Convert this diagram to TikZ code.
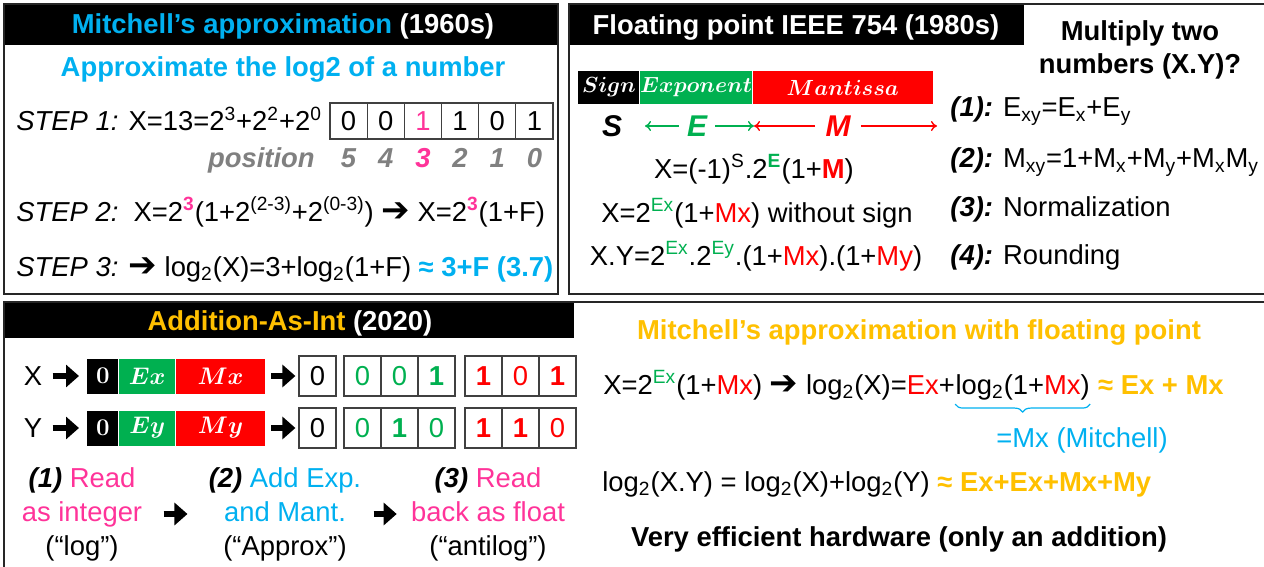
\documentclass[tikz,border=0pt]{standalone}
\usepackage{fontspec}
\setmainfont{Liberation Sans}
\newfontfamily\arrowfont{DejaVu Sans}
\usetikzlibrary{arrows.meta}
\usetikzlibrary{positioning}
\usetikzlibrary{decorations.pathreplacing}

\definecolor{mblue}{HTML}{00B0F0}
\definecolor{morange}{HTML}{FFC000}
\definecolor{mgreen}{HTML}{00B050}
\definecolor{mred}{HTML}{FF0000}
\definecolor{mpink}{HTML}{FF3399}
\definecolor{mgray}{HTML}{808080}

\newcommand{\fs}{\fontsize{13.7}{16.5}\selectfont}
\newcommand{\ra}{{\arrowfont\fontsize{17}{17}\selectfont ➔}}
\newcommand{\logtwo}{log\textsubscript{2}}
\newcommand{\sps}[1]{\textsuperscript{#1}}

\begin{document}
\begin{tikzpicture}[x=0.5pt, y=-0.5pt,
  every node/.style={font=\fs, inner sep=0pt},
  frame/.style={draw=black!85, line width=1.2pt},
  hdr/.style={fill=black},
  cell/.style={draw=black!75, line width=0.6pt, minimum width=18.5pt, minimum height=20pt},
  bar/.style={text=white, minimum height=17.5pt, font=\fontsize{13}{15}\selectfont\boldmath},
  fpbar/.style={text=white, minimum height=16.5pt, font=\fontsize{10.8}{13}\selectfont\boldmath},
  bigarr/.style={line width=2.8pt, -{Triangle[length=6.5pt, width=11pt]}},
  lenarr/.style={line width=0.7pt, -{To[length=3pt, width=5pt]}},
  lines/.style={align=center, font=\fontsize{13.7}{17}\selectfont}]

\useasboundingbox (0,0) rectangle (1264,567);

% Mitchell (1960s)
\fill[hdr] (4,4) rectangle (558,45);
\draw[frame] (4,4) rectangle (558,294);
\node[anchor=base] (t1) at (283,34) {\bfseries\textcolor{mblue}{Mitchell's approximation} \textcolor{white}{(1960s)}};
\node[anchor=base, text=mblue] (sub1) at (283,77) {\bfseries Approximate the log2 of a number};

\node[anchor=base west] (st1) at (16,131) {\textit{STEP 1:} X=13=2\sps{3}+2\sps{2}+2\sps{0}};
\foreach \b/\c [count=\i] in {0/black,0/black,1/mpink,1/black,0/black,1/black}
  \node[cell, minimum width=18.58pt, minimum height=18pt, text=\c] (c\i) at ({330+37.17*(\i-0.5)},121) {\b};
\node[anchor=base east, text=mgray] (pos) at (315,168) {\bfseries\itshape position};
\foreach \d/\c [count=\i] in {5/mgray,4/mgray,3/mpink,2/mgray,1/mgray,0/mgray}
  \node[anchor=base, text=\c] (p\i) at ({330+37.17*(\i-0.5)},168) {\bfseries\itshape \d};

\node[anchor=base west] (st2) at (16,221) {\textit{STEP 2:}\ \ X=2\sps{\textcolor{mpink}{\bfseries 3}}(1+2\sps{(2-3)}+2\sps{(0-3)}) \ra{} X=2\sps{\textcolor{mpink}{\bfseries 3}}(1+F)};
\node[anchor=base west] (st3) at (16,276) {\textit{STEP 3:} \ra{} \logtwo(X)=3+\logtwo(1+F) \textcolor{mblue}{\bfseries ≈ 3+F (3.7)}};

% IEEE 754 (1980s)
\fill[hdr] (569,4) rectangle (1024,45);
\draw[frame] (569,4) rectangle (1272,294);
\node[anchor=base, text=white] (t2) at (796,35) {\bfseries Floating point IEEE 754 (1980s)};

\node[fpbar, fill=black, minimum width=30.5pt, anchor=west] (sg) at (578,87.5) {$Sign$};
\node[fpbar, fill=mgreen, minimum width=55.5pt, right=0pt of sg] (ex) {$Exponent$};
\node[fpbar, fill=mred, minimum width=90pt, right=0pt of ex] (ma) {$Mantissa$};

\node[font=\fontsize{15}{18}\selectfont] (s) at (612,126) {\bfseries\itshape S};
\node[font=\fontsize{15}{18}\selectfont, text=mgreen, inner xsep=4pt] (e) at (697,126) {\bfseries\itshape E};
\node[font=\fontsize{15}{18}\selectfont, text=mred, inner xsep=5pt] (m) at (838,126) {\bfseries\itshape M};
\coordinate (el) at (645,126);
\coordinate (em) at (754,126);
\coordinate (mr) at (937,126);
\draw[lenarr, mgreen] (e) -- (el);
\draw[lenarr, mgreen] (e) -- (em);
\draw[lenarr, mred] (m) -- (em);
\draw[lenarr, mred] (m) -- (mr);

\node[anchor=base] (f1) at (754,178) {X=(-1)\sps{S}.2\sps{\textcolor{mgreen}{\bfseries E}}(1+\textcolor{mred}{\bfseries M})};
\node[anchor=base] (f2) at (757,222) {X=2\sps{\textcolor{mgreen}{Ex}}(1+\textcolor{mred}{Mx}) without sign};
\node[anchor=base] (f3) at (756,265) {X.Y=2\sps{\textcolor{mgreen}{Ex}}.2\sps{\textcolor{mgreen}{Ey}}.(1+\textcolor{mred}{Mx}).(1+\textcolor{mred}{My})};

\node[align=center, font=\fontsize{13.7}{16.5}\selectfont\bfseries] (q) at (1140,50) {Multiply two\\numbers (X.Y)?};
\node[anchor=base west] (r1) at (950,117) {\textbf{\textit{(1):}} E\textsubscript{xy}=E\textsubscript{x}+E\textsubscript{y}};
\node[anchor=base west] (r2) at (950,168) {\textbf{\textit{(2):}} M\textsubscript{xy}=1+M\textsubscript{x}+M\textsubscript{y}+M\textsubscript{x}M\textsubscript{y}};
\node[anchor=base west] (r3) at (950,216) {\textbf{\textit{(3):}} Normalization};
\node[anchor=base west] (r4) at (950,264) {\textbf{\textit{(4):}} Rounding};

% Addition-As-Int (2020)
\fill[hdr] (4,302) rectangle (574,338);
\draw[frame] (4,302) rectangle (1272,580);
\node[anchor=base] (t3) at (290,330) {\bfseries\textcolor{morange}{Addition-As-Int} \textcolor{white}{(2020)}};

\foreach \r/\R/\yy in {x/X/376, y/Y/428} {
  \node (\r l) at (33,\yy) {\R};
  \node[bar, fill=black, minimum width=15.5pt, anchor=west] (\r s) at (87,\yy) {$\mathbf{0}$};
  \node[bar, fill=mgreen, minimum width=28pt, right=0pt of \r s] (\r e) {$E\r$};
  \node[bar, fill=mred, minimum width=44.5pt, right=0pt of \r e] (\r m) {$M\r$};
  \node[cell] (\r 0) at (317.5,\yy) {0};
  \draw[bigarr] ([xshift=5pt]\r l.east) -- ([xshift=-4pt]\r s.west);
  \draw[bigarr] ([xshift=3pt]\r m.east) -- ([xshift=-1.5pt]\r 0.west);
}
\foreach \b/\c [count=\i] in {0/mgreen,0/mgreen,\textbf{1}/mgreen,\textbf{1}/mred,0/mred,\textbf{1}/mred}
  \node[cell, text=\c] (xc\i) at ({362.5+37*(\i-1)+(\i>3)*10},376) {\b};
\foreach \b/\c [count=\i] in {0/mgreen,\textbf{1}/mgreen,0/mgreen,\textbf{1}/mred,\textbf{1}/mred,0/mred}
  \node[cell, text=\c] (yc\i) at ({362.5+37*(\i-1)+(\i>3)*10},428) {\b};

\node[lines] (cap1) at (82,514) {\textbf{\textit{(1)}} \textcolor{mpink}{Read}\\\textcolor{mpink}{as integer}\\(``log'')};
\node[lines] (cap2) at (285,514) {\textbf{\textit{(2)}} \textcolor{mblue}{Add Exp.}\\\textcolor{mblue}{and Mant.}\\(``Approx'')};
\node[lines] (cap3) at (488,514) {\textbf{\textit{(3)}} \textcolor{mpink}{Read}\\\textcolor{mpink}{back as float}\\(``antilog'')};
\draw[bigarr] ([xshift=10.5pt]cap1.east) -- ([xshift=-10.5pt]cap2.west);
\draw[bigarr] ([xshift=6pt]cap2.east) -- ([xshift=-7pt]cap3.west);

% with floating point
\node[anchor=base, text=morange] (t4) at (919,339) {\bfseries Mitchell's approximation with floating point};
\node[anchor=base west] (g1) at (603,394) {X=2\sps{\textcolor{mgreen}{Ex}}(1+\textcolor{mred}{Mx}) \ra{} \logtwo(X)=\textcolor{mred}{Ex}+};
\node[anchor=base west] (g2) at (g1.base east) {\logtwo(1+\textcolor{mred}{Mx})};
\node[anchor=base west] (g3) at (g2.base east) {\ \textcolor{morange}{\bfseries ≈ Ex + Mx}};
\draw[mblue, line width=0.6pt, decorate, decoration={brace, mirror, amplitude=4pt}] ([yshift=-2pt]g2.south west) -- ([yshift=-2pt]g2.south east);
\node[anchor=base west, text=mblue] (mit) at (996,447) {=Mx (Mitchell)};
\node[anchor=base west] (g4) at (602,491) {\logtwo(X.Y) = \logtwo(X)+\logtwo(Y) \textcolor{morange}{\bfseries ≈ Ex+Ex+Mx+My}};
\node[anchor=base] (hw) at (899,546) {\bfseries Very efficient hardware (only an addition)};
\end{tikzpicture}
\end{document}
